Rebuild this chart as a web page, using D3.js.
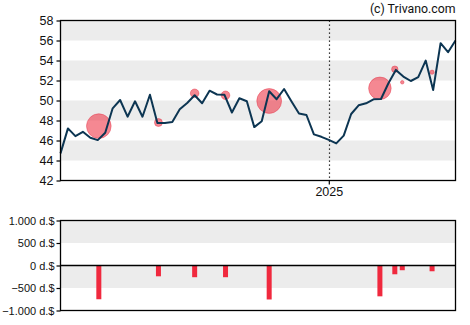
<!DOCTYPE html>
<html><head><meta charset="utf-8">
<script src="https://cdn.jsdelivr.net/npm/d3@7"></script>
<style>body{margin:0;background:#fff}svg{display:block}</style>
</head><body>
<svg id="c" width="470" height="325"></svg>
<script>
const startDate = "2024-04-24";
const prices = [44.71,47.21,46.44,46.87,46.27,46.04,46.77,49.22,50.05,48.38,49.92,48.38,50.58,47.74,47.75,47.86,49.12,49.75,50.52,49.72,50.98,50.6,50.57,48.8,50.22,49.92,47.34,47.92,50.92,50.13,51.15,49.9,48.7,48.55,46.61,46.37,46.06,45.71,46.49,48.65,49.52,49.72,50.12,50.15,51.72,53.06,52.39,51.95,52.33,53.99,51.05,55.73,54.83,56.0];
const tradeDates = ["2024-05-30","2024-07-25","2024-08-28","2024-09-26","2024-11-06","2025-02-18","2025-03-04","2025-03-11","2025-04-08"];
const tradePrices = [47.44,47.8,50.72,50.52,49.95,51.22,53.13,51.82,52.83];
const tradeAmounts = [-750,-240,-260,-260,-755,-685,-195,-105,-128];
const priceTicks = [42,44,46,48,50,52,54,56,58];
const amountTicks = [-1000,-500,0,500,1000];
const yearTicks = ["2025-01-01"];

const parse = d3.utcParse("%Y-%m-%d");
const t0 = parse(startDate);
const dates = prices.map((p,i)=>d3.utcDay.offset(t0, 7*i));
const svg = d3.select("#c");
const L=60.5, R=455.5;
const x = d3.scaleUtc().domain([dates[0], dates[dates.length-1]]).range([L,R]);
const y = d3.scaleLinear().domain([42,58]).range([180.5,20.5]);
const y2 = d3.scaleLinear().domain([-1000,1000]).range([310.5,220.5]);
const rScale = d3.scaleLinear().domain([0,1000]).range([0,16.4]);
const fmt = v => d3.format(",")(v).replace(/,/g,".") + " d.$";
const font = "'Liberation Sans', Arial, sans-serif";

const bandsMain = [[56,58],[52,54],[48,50],[44,46]];
svg.append("g").selectAll("rect").data(bandsMain).join("rect")
  .attr("x",L).attr("width",R-L).attr("y",d=>y(d[1])).attr("height",d=>y(d[0])-y(d[1])).attr("fill","#ececec");
const bandsLow = [[500,1000],[-500,0]];
svg.append("g").selectAll("rect").data(bandsLow).join("rect")
  .attr("x",L).attr("width",R-L).attr("y",d=>y2(d[1])).attr("height",d=>y2(d[0])-y2(d[1])).attr("fill","#ececec");

svg.append("g").selectAll("line").data(yearTicks).join("line")
  .attr("x1",d=>Math.round(x(parse(d)))+0.5).attr("x2",d=>Math.round(x(parse(d)))+0.5)
  .attr("y1",y(58)).attr("y2",y(42)).attr("stroke","#000").attr("stroke-width",1.2).attr("stroke-dasharray","1.2,2.8");

const trades = tradeDates.map((d,i)=>({date:parse(d),price:tradePrices[i],amt:tradeAmounts[i]}));
svg.append("g").selectAll("circle").data(trades).join("circle")
  .attr("cx",d=>x(d.date)).attr("cy",d=>y(d.price)).attr("r",d=>rScale(Math.abs(d.amt)))
  .attr("fill","rgba(238,50,68,0.58)").attr("stroke","rgba(230,60,80,0.5)").attr("stroke-width",1);

svg.append("path").datum(prices).attr("fill","none").attr("stroke","#0c3552").attr("stroke-width",2)
  .attr("stroke-linejoin","round")
  .attr("d", d3.line().x((d,i)=>x(dates[i])).y(d=>y(d)));

svg.append("g").selectAll("rect").data(trades).join("rect")
  .attr("x",d=>x(d.date)-2.5).attr("width",5)
  .attr("y",d=>y2(Math.max(0,d.amt))).attr("height",d=>Math.abs(y2(d.amt)-y2(0)))
  .attr("fill","#f0293e");

svg.append("rect").attr("x",L).attr("y",y(58)).attr("width",R-L).attr("height",y(42)-y(58)).attr("fill","none").attr("stroke","#000").attr("stroke-width",1.3);
svg.append("rect").attr("x",L).attr("y",y2(1000)).attr("width",R-L).attr("height",y2(-1000)-y2(1000)).attr("fill","none").attr("stroke","#000").attr("stroke-width",1.3);
svg.append("line").attr("x1",L).attr("x2",R).attr("y1",y2(0)).attr("y2",y2(0)).attr("stroke","#000").attr("stroke-width",1.3);

const ay = svg.append("g").attr("transform",`translate(${L},0)`).call(d3.axisLeft(y).tickValues(priceTicks).tickSize(4).tickPadding(3));
ay.select(".domain").remove();
ay.selectAll("text").attr("font-family",font).attr("font-size",12.5).attr("fill","#111");
ay.selectAll("line").attr("stroke","#000").attr("stroke-width",1.2);

const ay2 = svg.append("g").attr("transform",`translate(${L},0)`).call(d3.axisLeft(y2).tickValues(amountTicks).tickSize(4).tickPadding(2).tickFormat(fmt));
ay2.select(".domain").remove();
ay2.selectAll("text").attr("font-family",font).attr("font-size",11).attr("fill","#111");
ay2.selectAll("line").attr("stroke","#000").attr("stroke-width",1.2);

const ax = svg.append("g").attr("transform",`translate(0,${y(42)})`).call(d3.axisBottom(x).tickValues(yearTicks.map(parse)).tickSize(4).tickPadding(3).tickFormat(d3.utcFormat("%Y")));
ax.select(".domain").remove();
ax.selectAll("text").attr("font-family",font).attr("font-size",12.5).attr("fill","#111");
ax.selectAll("line").attr("stroke","#000").attr("stroke-width",1.2);

svg.append("text").attr("x",R).attr("y",13).attr("text-anchor","end")
  .attr("font-family","Roboto, sans-serif").attr("font-size",12.3).attr("fill","#111").text("(c) Trivano.com");
</script>
</body></html>
